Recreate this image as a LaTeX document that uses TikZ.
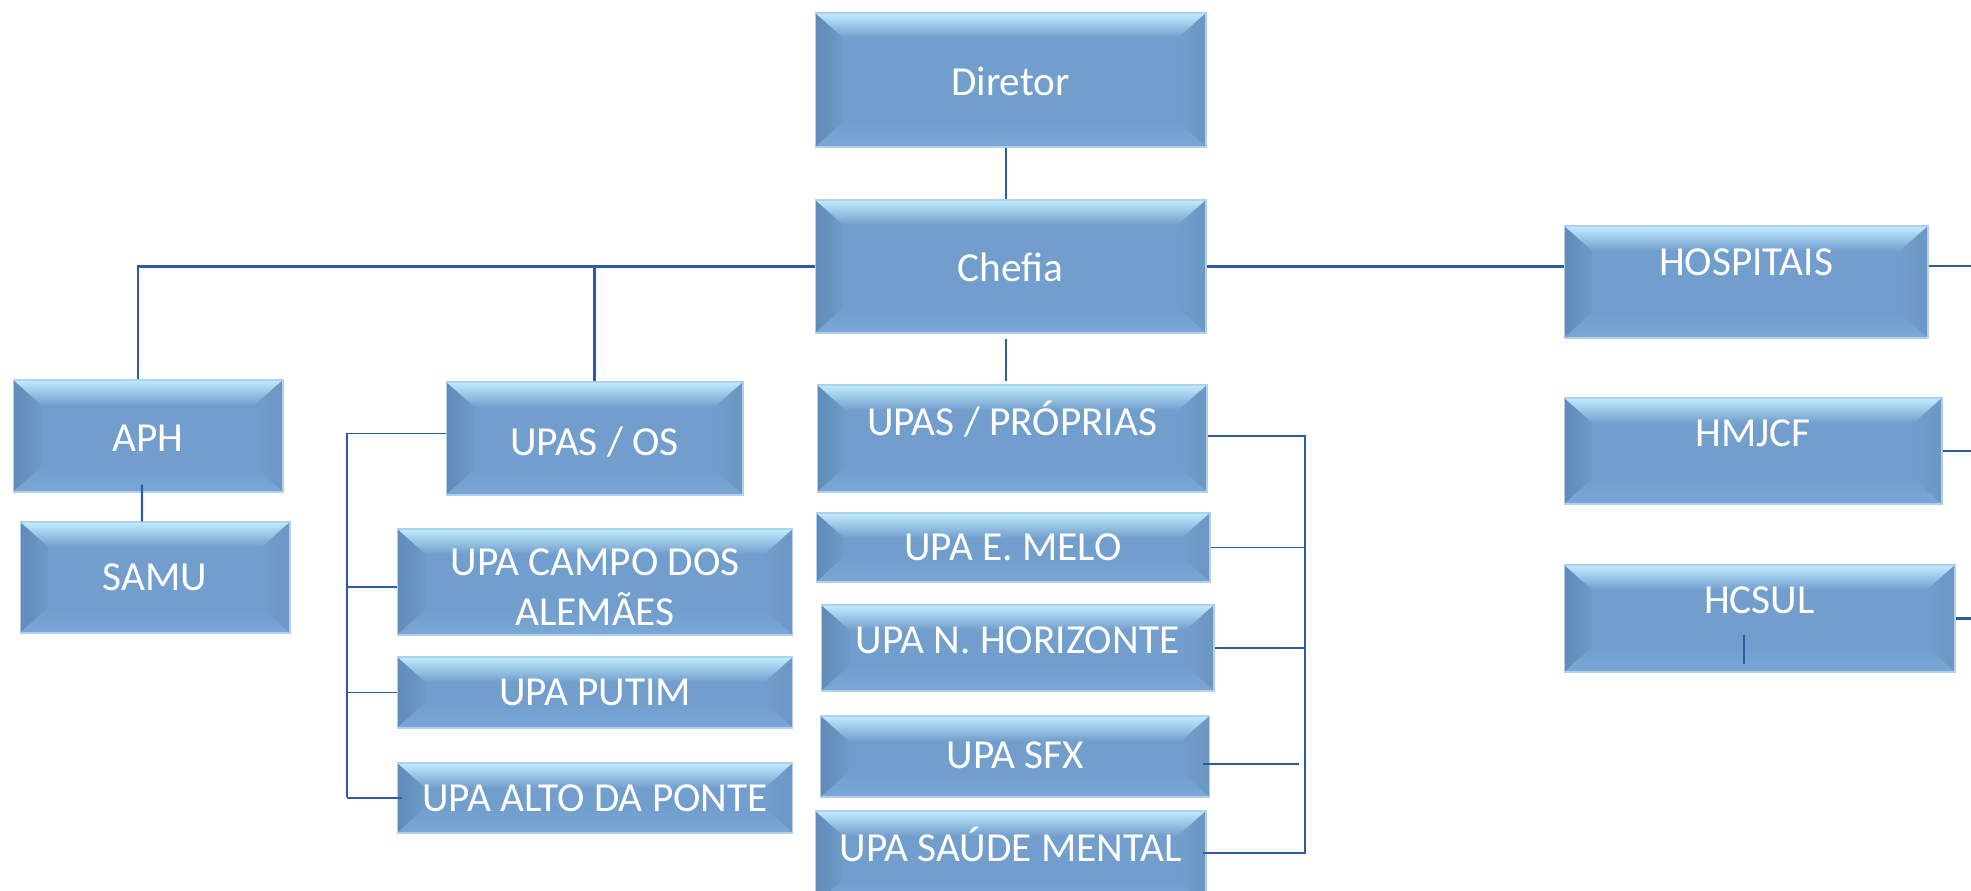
\documentclass[tikz,border=0pt]{standalone}
\usepackage{fontspec}
\setmainfont{Carlito}
\usetikzlibrary{shadings}

\definecolor{boxface}{RGB}{113,158,204}
\definecolor{boxedge}{RGB}{178,208,236}
\definecolor{bevtop}{RGB}{192,236,255}
\definecolor{bevmid}{RGB}{140,186,226}
\definecolor{bevleft}{RGB}{96,138,183}
\definecolor{bevright}{RGB}{108,150,196}
\definecolor{bevbot}{RGB}{122,168,214}
\definecolor{linkblue}{RGB}{46,92,162}

\tikzset{
  bevel/.style={draw=boxedge, line width=0.6pt, fill=boxface, inner sep=0pt,
    path picture={
      \path (path picture bounding box.north west) coordinate (bnw)
            (path picture bounding box.south east) coordinate (bse)
            (bnw -| bse) coordinate (bne)
            (bnw |- bse) coordinate (bsw);
      \shade[top color=bevtop, middle color=bevmid, bottom color=boxface]
        (bnw) -- (bne) -- ([xshift=-0.56cm,yshift=-0.5cm]bne) -- ([xshift=0.56cm,yshift=-0.5cm]bnw) -- cycle;
      \shade[left color=bevleft, right color=boxface!85!bevleft]
        (bnw) -- ([xshift=0.56cm,yshift=-0.5cm]bnw) -- ([xshift=0.56cm,yshift=0.5cm]bsw) -- (bsw) -- cycle;
      \shade[left color=boxface, right color=bevright]
        (bne) -- (bse) -- ([xshift=-0.56cm,yshift=0.5cm]bse) -- ([xshift=-0.56cm,yshift=-0.5cm]bne) -- cycle;
      \shade[top color=boxface, bottom color=bevbot]
        (bsw) -- (bse) -- ([xshift=-0.56cm,yshift=0.5cm]bse) -- ([xshift=0.56cm,yshift=0.5cm]bsw) -- cycle;
    }},
  lbl/.style={text=white, font=\fontsize{23.5}{28.5}\selectfont, inner sep=0pt,
    text height=15.1pt, text depth=0pt},
  lbltwo/.style={text=white, font=\fontsize{23.5}{28.5}\selectfont, inner sep=0pt,
    align=center},
  link/.style={draw=linkblue, line width=1.2pt},
  brk/.style={draw=linkblue, line width=0.9pt}
}

\begin{document}
\begin{tikzpicture}[x=0.02cm,y=-0.02cm]
  \useasboundingbox (0,0) rectangle (1971,891);
  \clip (0,0) rectangle (1971,891);

  % top
  \node[bevel, minimum width=7.82cm, minimum height=2.68cm, label={[lbl, yshift=-0.04cm]center:Diretor}] (dir) at (1010.5,80) {};
  \node[bevel, minimum width=7.82cm, minimum height=2.66cm, label={[lbl, yshift=-0.03cm]center:Chefia}] (chef) at (1010.5,266.5) {};

  % hospitals
  \node[bevel, minimum width=7.28cm, minimum height=2.24cm, label={[lbl, yshift=0.4cm]center:HOSPITAIS}] (hosp) at (1746,282) {};
  \node[bevel, minimum width=7.56cm, minimum height=2.12cm, label={[lbl, yshift=0.36cm]center:HMJCF}] (hmj) at (1753,451) {};
  \node[bevel, minimum width=7.82cm, minimum height=2.14cm, label={[lbl, yshift=0.37cm]center:HCSUL}] (hcs) at (1759.5,618.5) {};

  % left
  \node[bevel, minimum width=5.4cm, minimum height=2.24cm, label={[lbl, yshift=-0.04cm]center:APH}] (aph) at (148,436) {};
  \node[bevel, minimum width=5.4cm, minimum height=2.22cm, label={[lbl]center:SAMU}] (samu) at (155,577.5) {};
  \node[bevel, minimum width=5.94cm, minimum height=2.26cm, label={[lbl, yshift=-0.07cm]center:UPAS / OS}] (upos) at (594.5,438.5) {};
  \node[bevel, minimum width=7.92cm, minimum height=2.12cm, label={[lbltwo, yshift=-0.1cm]center:UPA CAMPO DOS\\ALEMÃES}] (camp) at (595,582) {};
  \node[bevel, minimum width=7.92cm, minimum height=1.42cm, label={[lbl]center:UPA PUTIM}] (put) at (595,692.5) {};
  \node[bevel, minimum width=7.92cm, minimum height=1.4cm, label={[lbl]center:UPA ALTO DA PONTE}] (alto) at (595,798) {};

  % middle column
  \node[bevel, minimum width=7.8cm, minimum height=2.14cm, label={[lbl, yshift=0.33cm]center:UPAS / PRÓPRIAS}] (upro) at (1012,438.5) {};
  \node[bevel, minimum width=7.88cm, minimum height=1.38cm, label={[lbl]center:UPA E. MELO}] (melo) at (1013,547.5) {};
  \node[bevel, minimum width=7.86cm, minimum height=1.72cm, label={[lbl, yshift=0.16cm]center:UPA N. HORIZONTE}] (nhor) at (1017.5,648) {};
  \node[bevel, minimum width=7.78cm, minimum height=1.62cm, label={[lbl, yshift=0.03cm]center:UPA SFX}] (sfx) at (1015,756.5) {};
  \node[bevel, minimum width=7.82cm, minimum height=1.88cm, label={[lbl, yshift=0.2cm]center:UPA SAÚDE MENTAL}] (saude) at (1010.5,858) {};

  % connectors
  \draw[link] ([xshift=-0.09cm]dir.south) -- ([xshift=-0.09cm]chef.north);
  \draw[link] (chef.west) -| ([xshift=-0.2cm]aph.north);
  \draw[link] (upos.north) -- (upos.north |- chef.west);
  \draw[link] (chef.east) -- (chef.east -| hosp.west);
  \draw[link, shorten <=0.1cm, shorten >=0.06cm] ([xshift=-0.09cm]chef.south) -- ([xshift=-0.09cm]chef.south |- upro.north);
  \draw[link] ([xshift=-0.12cm,yshift=0.16cm]aph.south) -- ([xshift=-0.26cm]samu.north);

  \draw[link] ([yshift=0.32cm]hosp.east) -- ++(60,0);
  \draw[link] (hmj.east) -- ++(40,0);
  \draw[link] (hcs.east) -- ++(30,0);
  \draw[link] ([xshift=-0.31cm,yshift=-0.33cm]hcs.center) -- ++(0,29);

  \coordinate (osbar) at (347,797);
  \draw[brk] ([yshift=0.1cm]upos.west) -| (osbar);
  \draw[brk] ([yshift=-0.1cm]camp.west) -- ([yshift=-0.1cm]camp.west -| osbar);
  \draw[brk] (put.west) -- (put.west -| osbar);
  \draw[brk] ([xshift=0.1cm]alto.west) -- (alto.west -| osbar);

  \coordinate (probar) at (1305,853);
  \draw[brk] ([yshift=0.05cm]upro.east) -| (probar) -- ([xshift=-0.08cm]saude.east |- probar);
  \draw[brk] (melo.east) -- (melo.east -| probar);
  \draw[brk] (nhor.east) -- (nhor.east -| probar);
  \draw[brk] ([xshift=-0.15cm,yshift=-0.15cm]sfx.east) -- ++(96,0);
\end{tikzpicture}
\end{document}
